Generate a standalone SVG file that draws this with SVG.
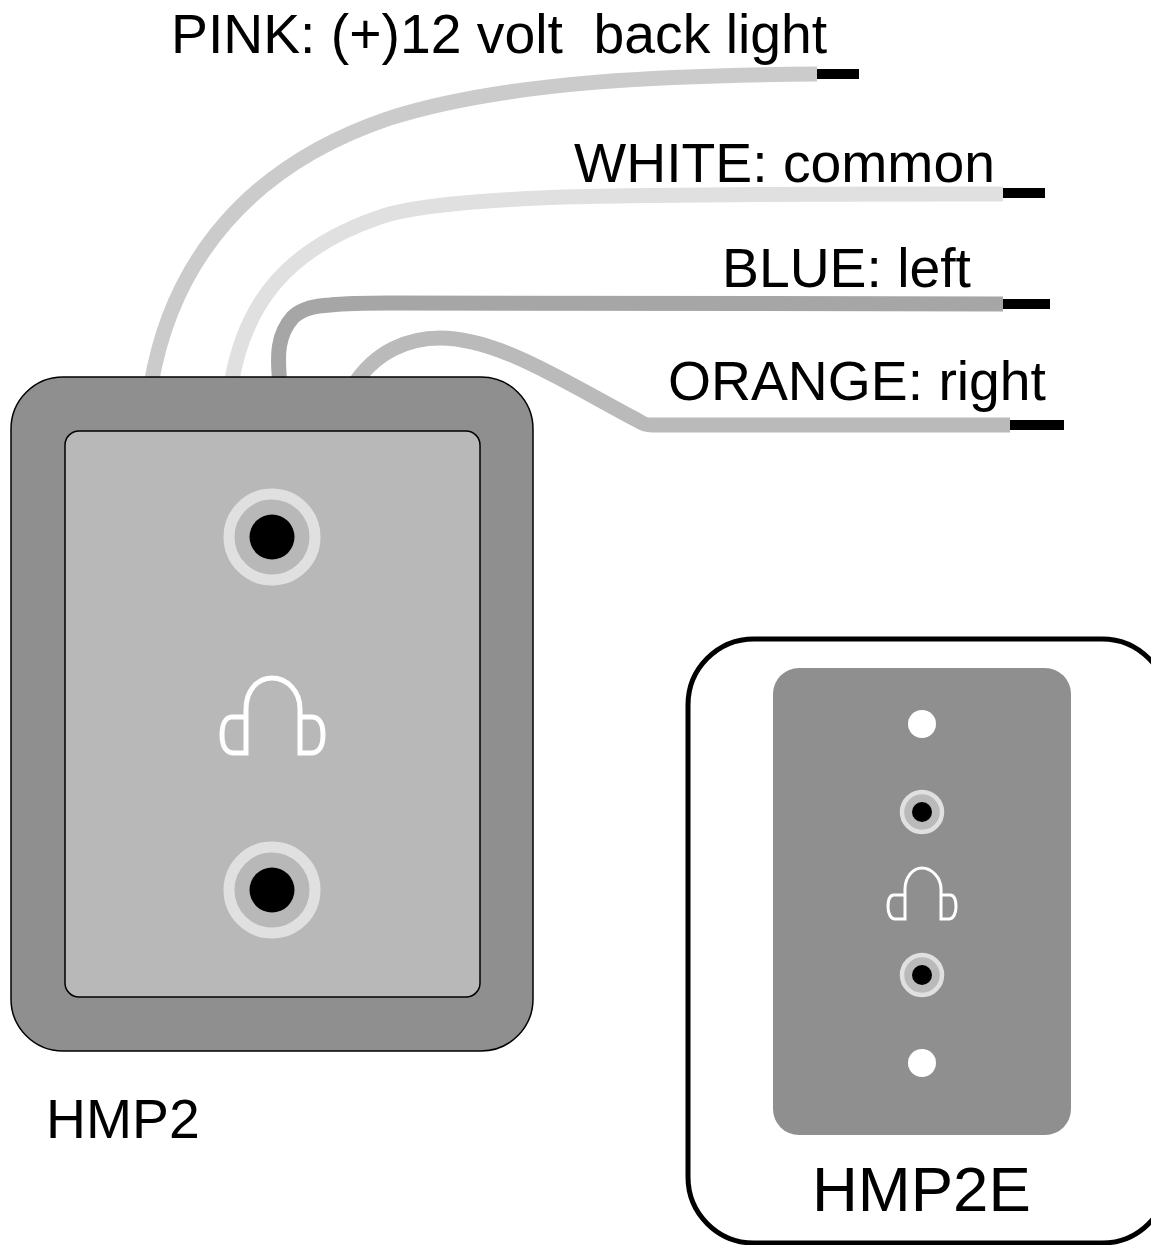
<svg xmlns="http://www.w3.org/2000/svg" width="1151" height="1245" viewBox="0 0 1151 1245">
<style>
.w{fill:none;stroke-width:15}
.t{fill:none;stroke:#000;stroke-width:10}
text{font-family:"Liberation Sans",Arial,sans-serif;fill:#000;font-size:55.300px;white-space:pre}
.ph{fill:none;stroke:#fff;stroke-linejoin:miter}
</style>
<rect width="1151" height="1245" fill="#fff"/>
<g id="connectors">
<path class="w" stroke="#cbcbcb" d="M151 385C172 260 250 165 390 118C510 80 680 75 817 74"/>
<path class="t" d="M817 74H859"/>
<path class="w" stroke="#e0e0e0" d="M231 385C245 300 290 248 380 217C450 193 650 194 1003 194"/>
<path class="t" d="M1003 193H1045"/>
<path class="w" stroke="#a6a6a6" d="M280 385C277 355 277 335 293 317C303 308 315 306 330 305C350 303 370 303 390 303L1003 304"/>
<path class="t" d="M1003 304H1050"/>
<path class="w" stroke="#bababa" d="M352 388C375 350 410 338 440 338C500 338 570 385 637 420C643 424 646 425 652 425L1010 425"/>
<path class="t" d="M1010 425H1064"/>
</g>
<g id="hmp2">
<rect x="11" y="377" width="522" height="674" rx="52" fill="#8f8f8f" stroke="#000" stroke-width="1.500"/>
<rect x="65" y="431" width="415" height="566" rx="14" fill="#b8b8b8" stroke="#000" stroke-width="1.500"/>
<circle cx="272" cy="537" r="43" fill="#b8b8b8" stroke="#e0e0e0" stroke-width="11"/>
<circle cx="272" cy="537" r="22.500" fill="#000"/>
<circle cx="272" cy="890" r="43" fill="#b8b8b8" stroke="#e0e0e0" stroke-width="11"/>
<circle cx="272" cy="890" r="22.500" fill="#000"/>
<path class="ph" stroke-width="5" d="M246 717H232C225 717 222 725 222 735C222 746 226 753 234 753H246V709C246 690 258 678 272 678C286 678 300 690 300 709V753H311C319 753 323 746 323 735C323 725 320 717 312 717H300"/>
<text x="46" y="1138">HMP2</text>
</g>
<g id="hmp2e">
<rect x="688" y="639" width="480" height="604" rx="66" fill="#fff" stroke="#000" stroke-width="5"/>
<rect x="773" y="668" width="298" height="467" rx="26" fill="#8f8f8f"/>
<circle cx="922" cy="724" r="14" fill="#fff"/>
<circle cx="922" cy="812" r="20" fill="#bababa" stroke="#e0e0e0" stroke-width="4.500"/>
<circle cx="922" cy="812" r="10" fill="#000"/>
<path class="ph" stroke-width="3" d="M905 895H894C889 895 888 902 888 907C888 914 891 919 895 919H905V889C905 877 913 868 922 868C931 868 941 877 941 889V919H949C953 919 956 914 956 907C956 902 955 895 950 895H941"/>
<circle cx="922" cy="975" r="20" fill="#bababa" stroke="#e0e0e0" stroke-width="4.500"/>
<circle cx="922" cy="975" r="10" fill="#000"/>
<circle cx="922" cy="1063" r="14" fill="#fff"/>
<text x="812" y="1211" style="font-size:63.500px">HMP2E</text>
</g>
<g id="labels">
<text x="171" y="53">PINK: (+)12 volt  back light</text>
<text x="574" y="182">WHITE: common</text>
<text x="722" y="287">BLUE: left</text>
<text x="668" y="400">ORANGE: right</text>
</g>
</svg>
